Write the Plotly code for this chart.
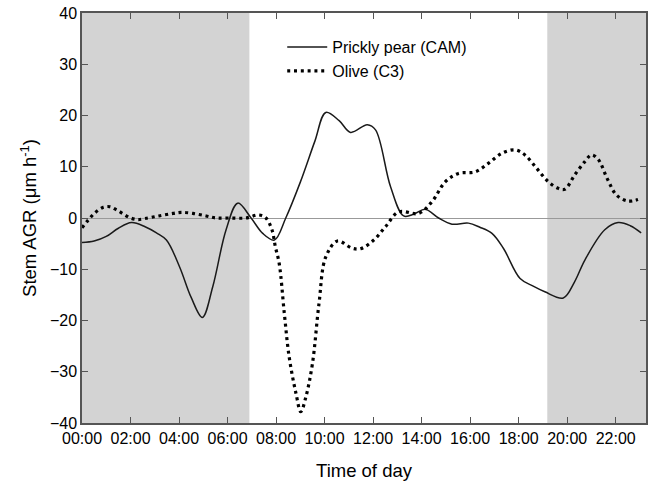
import plotly.graph_objects as go

# Prickly pear (CAM) - solid line
cam_t = [0.0, 0.5, 1.0, 1.5, 2.04, 2.6, 3.07, 3.48, 4.02, 4.5, 4.96, 5.39, 5.94, 6.42, 6.97, 7.45, 7.93, 8.4, 9.0, 9.6, 10.05, 10.6, 11.07, 11.76, 12.1, 12.72, 13.26, 13.7, 14.15, 14.7, 15.25, 15.93, 16.4, 16.9, 17.37, 18.06, 18.6, 19.08, 19.84, 20.3, 20.73, 21.55, 22.1, 22.6, 23.05]
cam_v = [-4.8, -4.5, -3.6, -2.0, -0.9, -1.7, -2.9, -4.3, -9.5, -15.5, -19.4, -13.4, -2.3, 2.9, 0.0, -3.0, -4.3, 0.0, 7.0, 15.0, 20.6, 19.0, 16.7, 18.2, 17.2, 6.1, 0.4, 0.8, 1.7, 0.0, -1.2, -1.0, -1.8, -3.0, -5.9, -11.8, -13.3, -14.4, -15.6, -12.5, -8.2, -2.3, -0.9, -1.5, -2.9]

# Olive (C3) - dotted line
olv_t = [0.0, 0.26, 0.53, 0.88, 1.15, 1.42, 1.7, 2.0, 2.31, 2.6, 3.16, 3.75, 4.09, 4.57, 5.12, 5.53, 6.1, 6.76, 7.28, 7.58, 7.83, 7.97, 8.13, 8.34, 8.54, 8.82, 9.02, 9.23, 9.5, 9.77, 10.05, 10.53, 11.14, 11.48, 12.03, 12.51, 13.06, 13.88, 14.43, 14.98, 15.52, 16.21, 16.76, 17.3, 17.85, 18.26, 18.74, 19.22, 19.63, 19.9, 20.31, 20.73, 21.0, 21.27, 21.68, 22.03, 22.5, 22.92]
olv_v = [-1.9, -0.4, 1.0, 2.1, 2.2, 1.6, 0.8, 0.0, -0.3, -0.1, 0.4, 0.9, 1.1, 0.9, 0.4, 0.0, 0.0, 0.0, 0.6, 0.0, -2.3, -5.6, -8.9, -18.6, -27.1, -34.2, -37.8, -34.9, -28.4, -16.7, -7.6, -4.5, -5.9, -6.0, -4.3, -1.7, 1.2, 0.9, 3.2, 7.1, 8.7, 9.0, 10.7, 12.6, 13.3, 12.3, 9.7, 7.1, 5.8, 5.6, 8.4, 11.0, 12.3, 11.5, 7.4, 4.5, 3.3, 3.6]

# Night periods (hours)
night_start = [0.0, 19.18]
night_end = [6.9, 23.25]

tick_vals = [0, 2, 4, 6, 8, 10, 12, 14, 16, 18, 20, 22]
tick_text = ["00:00", "02:00", "04:00", "06:00", "08:00", "10:00", "12:00",
             "14:00", "16:00", "18:00", "20:00", "22:00"]
y_ticks = [-40, -30, -20, -10, 0, 10, 20, 30, 40]

FONT = "Liberation Sans, Arial, sans-serif"
AX = "#555555"

fig = go.Figure()
fig.add_trace(go.Scatter(x=cam_t, y=cam_v, mode="lines", name="Prickly pear (CAM)",
                         line=dict(color="#1a1a1a", width=1.5, shape="spline", smoothing=1.0)))
fig.add_trace(go.Scatter(x=olv_t, y=olv_v, mode="lines", name="Olive (C3)",
                         line=dict(color="#000000", width=3.2, dash="3px,3.8px", shape="spline", smoothing=1.0)))

for s, e in zip(night_start, night_end):
    fig.add_shape(type="rect", xref="x", yref="y", x0=s, x1=e, y0=-40, y1=40,
                  fillcolor="#d3d3d3", line=dict(width=0), layer="below")

fig.update_layout(
    width=653, height=483,
    margin=dict(l=82, r=5, t=13, b=60),
    paper_bgcolor="white", plot_bgcolor="white",
    font=dict(family=FONT, size=16, color="#000"),
    showlegend=True,
    legend=dict(x=0.355, y=0.958, xanchor="left", yanchor="top",
                bgcolor="rgba(0,0,0,0)", font=dict(size=16, family=FONT),
                tracegroupgap=0, itemwidth=40),
    xaxis=dict(range=[0, 23.25], tickvals=tick_vals, ticktext=tick_text,
               ticks="inside", ticklen=6, tickcolor=AX, mirror="allticks",
               showline=True, linecolor=AX, linewidth=1.5, showgrid=False, zeroline=False,
               tickfont=dict(size=16, family=FONT),
               title=dict(text="Time of day", font=dict(size=18.5, family=FONT), standoff=18)),
    yaxis=dict(range=[-40, 40], tickvals=y_ticks,
               ticks="inside", ticklen=6, tickcolor=AX, mirror="allticks",
               showline=True, linecolor=AX, linewidth=1.5, showgrid=False,
               zeroline=True, zerolinecolor="#999", zerolinewidth=1,
               tickfont=dict(size=16, family=FONT),
               title=dict(text="Stem AGR (\u03bcm h<sup>-1</sup>)", font=dict(size=18.5, family=FONT), standoff=8)),
)

fig.write_html("out.html")
